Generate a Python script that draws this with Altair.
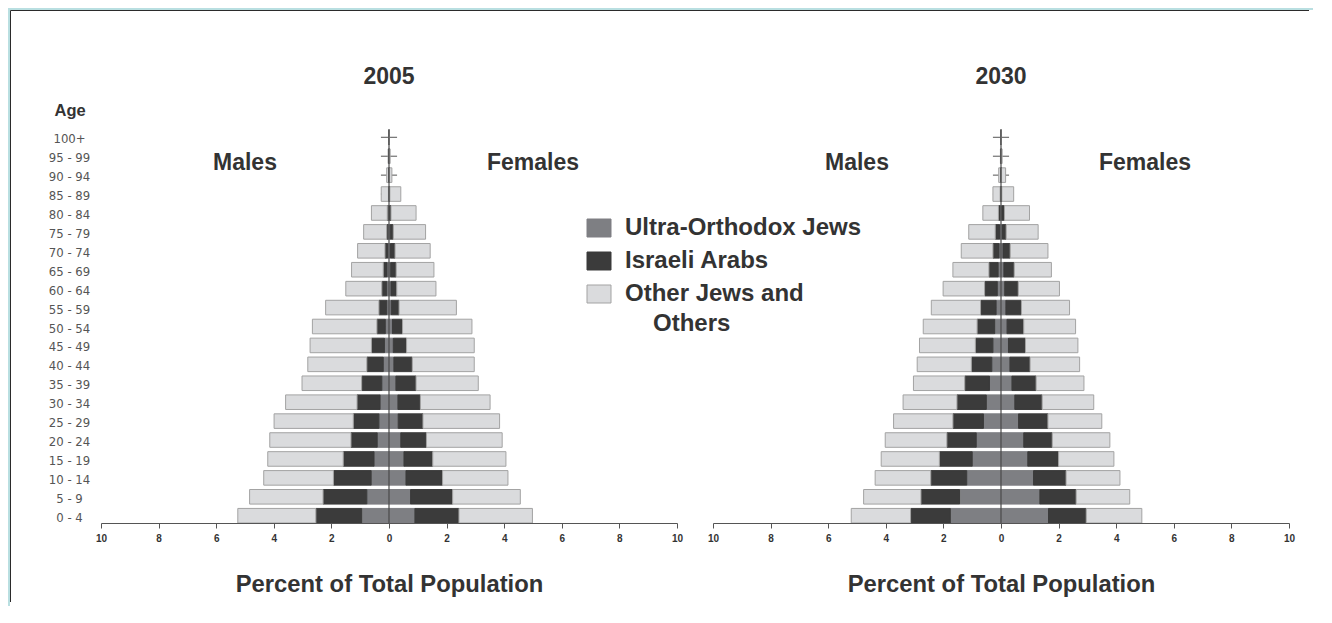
import altair as alt
import pandas as pd

ages = ["0 - 4", "5 - 9", "10 - 14", "15 - 19", "20 - 24", "25 - 29", "30 - 34",
        "35 - 39", "40 - 44", "45 - 49", "50 - 54", "55 - 59", "60 - 64", "65 - 69",
        "70 - 74", "75 - 79", "80 - 84", "85 - 89", "90 - 94", "95 - 99", "100+"]
groups = ["Ultra-Orthodox Jews", "Israeli Arabs", "Other Jews and Others"]
ticks_x = [-10, -8, -6, -4, -2, 0, 2, 4, 6, 8, 10]

# segment widths (percent of total population), ordered 0-4 ... 100+
m05_uo = [0.95, 0.77, 0.62, 0.52, 0.41, 0.35, 0.31, 0.25, 0.20, 0.16, 0.13, 0.08, 0.08, 0.07, 0.05, 0.03, 0.02, 0.01, 0.0, 0.0, 0.0]
m05_ar = [1.59, 1.52, 1.31, 1.07, 0.91, 0.89, 0.80, 0.70, 0.57, 0.45, 0.29, 0.27, 0.17, 0.13, 0.09, 0.05, 0.04, 0.01, 0.01, 0.0, 0.0]
m05_ot = [2.71, 2.55, 2.42, 2.62, 2.82, 2.75, 2.48, 2.07, 2.05, 2.13, 2.24, 1.85, 1.25, 1.10, 0.95, 0.80, 0.55, 0.25, 0.07, 0.03, 0.01]
f05_uo = [0.90, 0.75, 0.59, 0.52, 0.41, 0.32, 0.31, 0.24, 0.17, 0.15, 0.12, 0.08, 0.07, 0.06, 0.05, 0.04, 0.02, 0.01, 0.0, 0.0, 0.0]
f05_ar = [1.53, 1.46, 1.27, 1.00, 0.89, 0.86, 0.78, 0.70, 0.64, 0.46, 0.35, 0.27, 0.20, 0.19, 0.16, 0.11, 0.05, 0.02, 0.02, 0.01, 0.0]
f05_ot = [2.55, 2.35, 2.27, 2.54, 2.63, 2.66, 2.42, 2.16, 2.15, 2.35, 2.41, 1.99, 1.36, 1.31, 1.22, 1.12, 0.87, 0.38, 0.08, 0.03, 0.01]
m30_uo = [1.76, 1.44, 1.19, 1.00, 0.86, 0.61, 0.51, 0.40, 0.32, 0.28, 0.22, 0.17, 0.13, 0.10, 0.07, 0.05, 0.03, 0.01, 0.0, 0.0, 0.0]
m30_ar = [1.38, 1.34, 1.25, 1.14, 1.02, 1.06, 1.02, 0.86, 0.71, 0.61, 0.61, 0.54, 0.44, 0.32, 0.21, 0.15, 0.06, 0.02, 0.01, 0.0, 0.0]
m30_ot = [2.06, 1.99, 1.93, 2.02, 2.14, 2.06, 1.87, 1.78, 1.88, 1.94, 1.87, 1.71, 1.44, 1.25, 1.10, 0.92, 0.54, 0.25, 0.07, 0.02, 0.01]
f30_uo = [1.65, 1.35, 1.13, 0.93, 0.79, 0.61, 0.48, 0.38, 0.31, 0.26, 0.21, 0.17, 0.13, 0.10, 0.07, 0.05, 0.03, 0.01, 0.0, 0.0, 0.0]
f30_ar = [1.31, 1.26, 1.13, 1.07, 0.99, 1.02, 0.95, 0.84, 0.70, 0.59, 0.58, 0.54, 0.47, 0.36, 0.25, 0.13, 0.09, 0.02, 0.02, 0.01, 0.0]
f30_ot = [1.93, 1.86, 1.87, 1.92, 2.00, 1.87, 1.79, 1.66, 1.72, 1.82, 1.80, 1.67, 1.43, 1.29, 1.31, 1.11, 0.87, 0.41, 0.14, 0.03, 0.01]

fills = ["#7e7f83", "#3b3b3b", "#dadbdd"]
strokes = ["#7e7f83", "#3b3b3b", "#a3a3a3"]
FONT = "Liberation Sans, Arial, Helvetica, sans-serif"
NARROW = "Liberation Sans Narrow, Arial Narrow, DejaVu Sans Condensed, sans-serif"
INK = "#333333"
W, H = 576, 393


def long_df(males, females):
    rows = []
    for sign, series in ((-1, males), (1, females)):
        for k, (g, vals) in enumerate(zip(groups, series)):
            for a, v in zip(ages, vals):
                rows.append({"age": a, "group": g, "ord": k, "value": sign * v})
    return pd.DataFrame(rows)


d05 = long_df((m05_uo, m05_ar, m05_ot), (f05_uo, f05_ar, f05_ot))
d30 = long_df((m30_uo, m30_ar, m30_ot), (f30_uo, f30_ar, f30_ot))
tick_df = pd.DataFrame({"age": ages, "lo": [-0.28] * len(ages), "hi": [0.28] * len(ages)})
sex_df = pd.DataFrame({"lab": ["Males", "Females"], "xp": [-5.0, 5.0]})
one = pd.DataFrame({"k": [0]})

x_scale = alt.Scale(domain=[-10, 10], nice=False, zero=False)
y_scale = alt.Scale(domain=list(reversed(ages)), paddingInner=0.23, paddingOuter=0)
color_scale = alt.Scale(domain=groups, range=fills)
stroke_scale = alt.Scale(domain=groups, range=strokes)


def x_axis():
    return alt.Axis(values=ticks_x, labelExpr="'' + abs(datum.value)",
                    title="Percent of Total Population", grid=False,
                    domainColor="#555555", tickColor="#555555", tickSize=5,
                    labelFont=FONT, labelFontSize=10, labelFontWeight="bold",
                    labelColor=INK, labelPadding=5, labelFlush=False, labelOverlap=False,
                    titleFont=FONT, titleFontSize=23.8, titleFontWeight="bold",
                    titleColor=INK, titlePadding=29, zindex=1)


def legend():
    return alt.Legend(orient="none", legendX=486, legendY=86, title=None, padding=0,
                      symbolType="M-1.2,-0.9H1.2V0.9H-1.2Z", symbolSize=400,
                      symbolStrokeColor="#999999", symbolStrokeWidth=1,
                      labelFont=FONT, labelFontSize=24, labelFontWeight="bold",
                      labelColor=INK, labelOffset=14, labelLimit=400, rowPadding=9,
                      labelExpr="datum.label == 'Other Jews and Others' ? 'Other Jews and' : datum.label")


def panel(df, year, left):
    if left:
        y_axis = alt.Axis(title="Age", titleAngle=0, titleAlign="left", titleBaseline="middle",
                          titleX=-47, titleY=-20, titleFont=FONT, titleFontSize=16.5,
                          titleFontWeight="bold", titleColor=INK,
                          labelFont=NARROW, labelFontSize=13, labelColor="#555555",
                          labelAlign="center", labelBaseline="middle", labelPadding=32,
                          labelOffset=2, ticks=False, tickSize=0, domain=False, zindex=1)
    else:
        y_axis = None
    y = alt.Y("age:N", scale=y_scale, axis=y_axis)
    layers = []
    if left:
        # white page with a dark top and left border
        layers.append(alt.Chart(one).mark_rect(color="white").encode(
            x=alt.value(-91), x2=alt.value(1212), y=alt.value(-120), y2=alt.value(476)))
        layers.append(alt.Chart(one).mark_rule(color="#2b2b2b", strokeWidth=1).encode(
            x=alt.value(-90.5), x2=alt.value(1208), y=alt.value(-119.5)))
        layers.append(alt.Chart(one).mark_rule(color="#2b2b2b", strokeWidth=1).encode(
            x=alt.value(-90.5), y=alt.value(-119.5), y2=alt.value(472)))
    ticks = alt.Chart(tick_df).mark_rule(color="#555555", strokeWidth=1).encode(
        x=alt.X("lo:Q", scale=x_scale, axis=x_axis()), x2="hi:Q", y=y)
    bars = alt.Chart(df).mark_bar(strokeWidth=1).encode(
        x=alt.X("value:Q", stack="zero", scale=x_scale, axis=x_axis()),
        y=y,
        color=alt.Color("group:N", scale=color_scale, legend=legend()),
        stroke=alt.Stroke("group:N", scale=stroke_scale, legend=None),
        order=alt.Order("ord:Q", sort="ascending"),
    )
    center = alt.Chart(one).mark_rule(color="#4a4a4a", strokeWidth=1.2).encode(
        x=alt.datum(0), y=alt.value(-1), y2=alt.value(H))
    sexlab = alt.Chart(sex_df).mark_text(font=FONT, fontSize=23, fontWeight="bold",
                                         color=INK, baseline="middle").encode(
        x=alt.X("xp:Q", scale=x_scale, axis=x_axis()), y=alt.value(33), text="lab:N")
    yearlab = alt.Chart(pd.DataFrame({"t": [year], "xp": [0.0]})).mark_text(
        font=FONT, fontSize=23, fontWeight="bold", color=INK, baseline="middle").encode(
        x=alt.X("xp:Q", scale=x_scale, axis=x_axis()), y=alt.value(-53), text="t:N")
    layers += [ticks, bars, center, sexlab, yearlab]
    if left:
        # second line of the last legend label
        layers.append(alt.Chart(one).mark_text(
            font=FONT, fontSize=24, fontWeight="bold", color=INK, align="left",
            baseline="middle").encode(x=alt.value(552), y=alt.value(194),
                                      text=alt.value("Others")))
    return alt.layer(*layers).properties(width=W, height=H)


chart = alt.hconcat(panel(d05, "2005", True), panel(d30, "2030", False),
                    spacing=36, bounds="flush").properties(
    padding={"left": 2, "top": 2, "right": 0, "bottom": 0},
    background="#b9dfe1",
).configure_view(stroke=None)

chart.save("out.html", embed_options={"renderer": "svg", "actions": False})
